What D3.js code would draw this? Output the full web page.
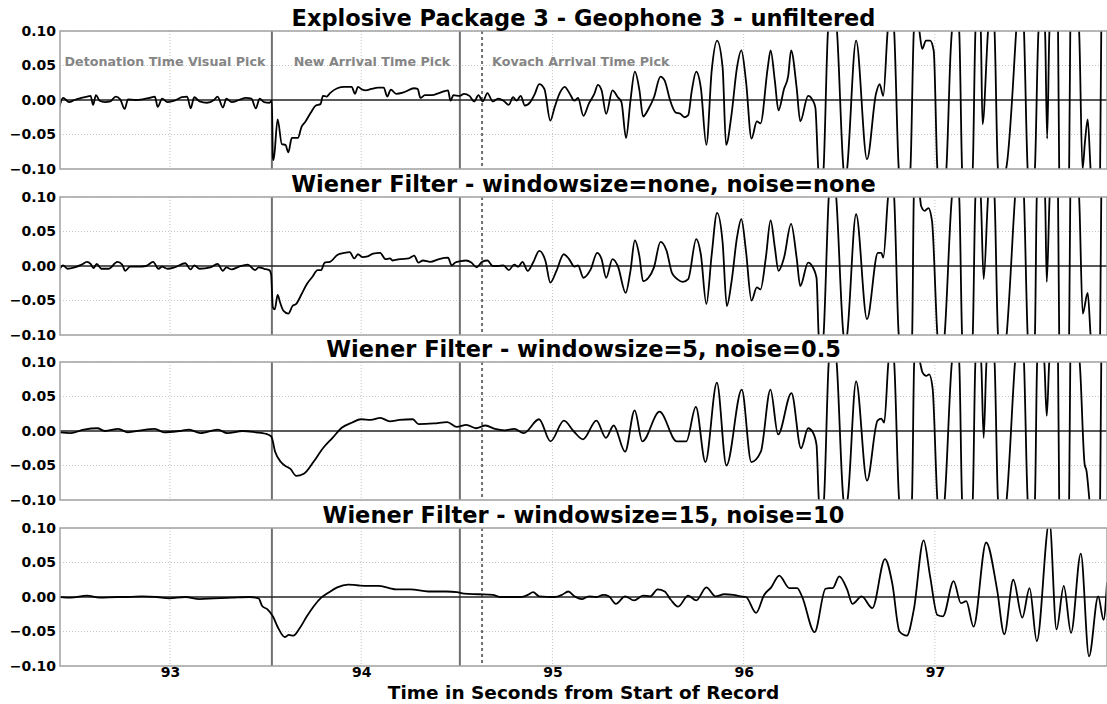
<!DOCTYPE html>
<head>
  <title>Explosive Package 3 - Geophone 3</title>
  <meta charset="utf-8">
  <script src="https://d3js.org/d3.v7.min.js"></script>

  <style>
    body { margin: 0; background: #fff; }
    svg { font-family: "DejaVu Sans", sans-serif; font-weight: bold; }
    .grid line { stroke: #b5b5b5; stroke-width: 0.8; stroke-dasharray: 1,2; }
    .frame { fill: none; stroke: #a3a3a3; stroke-width: 1.5; }
    .trace { fill: none; stroke: #000; stroke-width: 1.8; stroke-linejoin: round; }
    .zero { stroke: #222; stroke-width: 1.3; }
    .pick { stroke: #707070; stroke-width: 2; }
    .pick.dotted { stroke-dasharray: 3,3; }
    .picklabel { fill: #858585; font-size: 12.7px; }
    .title { font-size: 22.5px; fill: #000; }
    .xlabel { font-size: 18.5px; fill: #000; }
  </style>
</head>
<body>

  <svg width="1107" height="704"></svg>

  <script>

  // Panel titles
  var titles = [
    'Explosive Package 3 - Geophone 3 - unfiltered',
    'Wiener Filter - windowsize=none, noise=none',
    'Wiener Filter - windowsize=5, noise=0.5',
    'Wiener Filter - windowsize=15, noise=10'
  ];

  // Picks (seconds) and their labels
  var pickTimes = [93.533, 94.516, 94.632];
  var pickStyles = ['solid', 'solid', 'dotted'];
  var pickLabels = ['Detonation Time Visual Pick', 'New Arrival Time Pick', 'Kovach Arrival Time Pick'];
  var pickLabelTimes = [92.974, 94.056, 95.148];
  var pickLabelLevel = 0.05;

  var xTicks = [93, 94, 95, 96, 97];
  var yTicks = [-0.10, -0.05, 0.00, 0.05, 0.10];

  // [time s, amplitude]
  var geoUnfiltered = [
    [92.422,-0.010],[92.441,0.003],[92.473,-0.003],[92.501,0.000],[92.538,0.003],[92.566,0.005],[92.585,0.006],
    [92.598,-0.007],[92.613,0.007],[92.632,-0.001],[92.660,-0.003],[92.688,-0.002],[92.716,0.005],[92.740,0.001],
    [92.763,-0.013],[92.781,0.001],[92.819,0.000],[92.856,0.001],[92.893,0.003],[92.921,0.005],[92.936,-0.010],
    [92.959,0.002],[92.987,-0.003],[93.024,-0.001],[93.062,0.004],[93.090,0.005],[93.108,-0.012],[93.127,0.004],
    [93.155,-0.002],[93.193,-0.004],[93.230,0.000],[93.249,0.005],[93.277,-0.011],[93.295,0.002],[93.323,-0.003],
    [93.361,0.000],[93.398,0.003],[93.426,0.002],[93.449,-0.012],[93.469,0.002],[93.492,-0.003],[93.520,-0.004],
    [93.533,-0.001],[93.538,-0.083],[93.542,-0.087],[93.563,-0.028],[93.585,-0.064],[93.604,-0.065],[93.619,-0.076],
    [93.637,-0.055],[93.669,-0.055],[93.688,-0.039],[93.707,-0.032],[93.735,-0.019],[93.763,-0.008],[93.787,-0.006],
    [93.800,0.006],[93.819,0.005],[93.837,0.010],[93.875,0.017],[93.912,0.019],[93.950,0.019],[93.968,0.009],
    [93.983,0.019],[94.006,0.015],[94.024,0.014],[94.052,0.016],[94.090,0.018],[94.118,0.018],[94.136,0.005],
    [94.155,0.015],[94.183,0.009],[94.221,0.011],[94.277,0.017],[94.295,0.016],[94.310,0.003],[94.333,0.007],
    [94.370,0.007],[94.407,0.010],[94.454,0.014],[94.467,-0.001],[94.482,0.007],[94.516,0.006],[94.538,0.009],
    [94.566,0.006],[94.591,-0.002],[94.613,0.007],[94.636,-0.002],[94.660,0.010],[94.688,-0.002],[94.716,0.002],
    [94.744,-0.001],[94.772,-0.007],[94.794,0.004],[94.813,-0.001],[94.834,0.006],[94.856,-0.008],[94.884,-0.003],
    [94.908,0.009],[94.931,0.023],[94.958,0.016],[94.989,-0.030],[95.011,-0.011],[95.040,0.011],[95.064,0.019],
    [95.087,0.011],[95.115,-0.001],[95.134,0.003],[95.162,-0.023],[95.191,-0.005],[95.219,0.009],[95.238,0.022],
    [95.257,0.014],[95.281,-0.020],[95.314,0.014],[95.342,0.004],[95.361,-0.003],[95.385,-0.055],[95.408,-0.001],
    [95.431,0.041],[95.455,0.014],[95.474,-0.024],[95.502,-0.013],[95.531,0.004],[95.565,0.034],[95.587,0.028],
    [95.616,-0.001],[95.644,-0.018],[95.669,-0.020],[95.691,-0.025],[95.710,-0.022],[95.729,0.014],[95.752,0.041],
    [95.776,0.018],[95.805,-0.065],[95.833,0.043],[95.861,0.086],[95.890,0.047],[95.908,-0.065],[95.937,-0.020],
    [95.965,0.047],[95.988,0.072],[96.012,0.028],[96.041,-0.056],[96.069,-0.031],[96.088,-0.034],[96.126,0.047],
    [96.141,0.072],[96.163,0.028],[96.182,-0.015],[96.211,0.016],[96.233,0.035],[96.248,0.072],[96.277,0.018],
    [96.296,-0.031],[96.337,0.006],[96.362,-0.001],[96.375,-0.011],[96.390,-0.100],[96.403,-0.140],[96.418,-0.100],
    [96.441,0.100],[96.466,0.150],[96.488,0.100],[96.522,-0.100],[96.532,-0.120],[96.541,-0.100],[96.588,0.086],
    [96.645,-0.086],[96.692,0.009],[96.711,0.023],[96.730,0.006],[96.753,0.100],[96.770,0.140],[96.787,0.100],
    [96.811,-0.100],[96.841,-0.160],[96.872,-0.100],[96.890,0.100],[96.906,0.130],[96.919,0.100],[96.934,0.074],
    [96.953,0.086],[96.975,0.086],[96.994,0.071],[97.013,-0.100],[97.036,-0.150],[97.060,-0.100],[97.083,0.074],
    [97.089,0.100],[97.108,0.130],[97.127,0.100],[97.142,-0.100],[97.168,-0.200],[97.198,-0.100],[97.212,0.100],
    [97.225,0.140],[97.240,0.100],[97.249,-0.035],[97.278,0.100],[97.295,0.150],[97.312,0.100],[97.330,-0.100],
    [97.344,-0.110],[97.363,-0.105],[97.372,-0.100],[97.425,0.100],[97.446,0.200],[97.466,0.100],[97.485,-0.100],
    [97.504,-0.150],[97.523,-0.100],[97.542,0.100],[97.563,0.130],[97.576,0.100],[97.587,-0.056],[97.599,0.100],
    [97.621,0.160],[97.644,0.100],[97.650,-0.100],[97.675,-0.150],[97.702,-0.100],[97.708,0.100],[97.730,0.150],
    [97.754,0.100],[97.772,-0.100],[97.785,-0.060],[97.799,-0.028],[97.814,-0.100],[97.840,-0.200],[97.864,-0.100],
    [97.870,0.100],[97.888,0.150],[97.900,0.130]
  ];

  var wienerNone = [
    [92.422,-0.005],[92.441,0.001],[92.464,-0.004],[92.501,-0.002],[92.538,0.002],[92.566,0.006],[92.585,0.003],
    [92.600,-0.003],[92.617,0.003],[92.641,-0.004],[92.679,-0.004],[92.725,0.006],[92.750,0.002],[92.766,-0.007],
    [92.791,-0.001],[92.837,-0.001],[92.875,0.000],[92.912,0.006],[92.940,-0.004],[92.959,-0.001],[92.987,-0.004],
    [93.024,-0.002],[93.080,0.004],[93.108,-0.005],[93.127,0.001],[93.155,-0.004],[93.211,-0.002],[93.249,0.003],
    [93.277,-0.007],[93.295,-0.002],[93.323,-0.005],[93.361,-0.001],[93.407,0.002],[93.445,-0.006],[93.464,-0.002],
    [93.492,-0.004],[93.520,-0.006],[93.529,-0.012],[93.538,-0.060],[93.548,-0.063],[93.563,-0.042],[93.576,-0.053],
    [93.594,-0.065],[93.619,-0.069],[93.641,-0.058],[93.660,-0.055],[93.688,-0.041],[93.716,-0.026],[93.744,-0.016],
    [93.772,-0.006],[93.791,-0.006],[93.809,0.005],[93.837,0.006],[93.875,0.016],[93.912,0.019],[93.940,0.020],
    [93.964,0.011],[93.983,0.017],[94.006,0.013],[94.034,0.014],[94.062,0.018],[94.099,0.019],[94.127,0.010],
    [94.150,0.011],[94.164,0.008],[94.202,0.010],[94.249,0.011],[94.277,0.015],[94.299,0.005],[94.323,0.008],
    [94.361,0.006],[94.407,0.010],[94.454,0.012],[94.473,0.001],[94.492,0.005],[94.520,0.007],[94.548,0.008],
    [94.576,0.005],[94.604,-0.002],[94.632,0.006],[94.660,0.008],[94.688,0.000],[94.716,0.000],[94.744,0.001],
    [94.772,-0.006],[94.800,0.002],[94.822,-0.001],[94.843,0.006],[94.871,-0.007],[94.899,0.005],[94.931,0.022],
    [94.964,0.007],[94.989,-0.024],[95.021,-0.007],[95.059,0.017],[95.087,0.010],[95.115,-0.001],[95.134,0.001],
    [95.162,-0.017],[95.200,-0.005],[95.234,0.019],[95.257,0.010],[95.281,-0.017],[95.314,0.010],[95.342,0.000],
    [95.383,-0.039],[95.408,-0.007],[95.431,0.037],[95.455,0.014],[95.474,-0.022],[95.502,-0.017],[95.531,-0.002],
    [95.565,0.035],[95.597,0.022],[95.625,-0.010],[95.653,-0.019],[95.682,-0.023],[95.710,-0.019],[95.752,0.039],
    [95.776,0.017],[95.805,-0.055],[95.833,0.017],[95.861,0.077],[95.890,0.034],[95.912,-0.058],[95.937,-0.022],
    [95.965,0.041],[95.988,0.068],[96.012,0.022],[96.041,-0.050],[96.069,-0.031],[96.088,-0.034],[96.116,0.012],
    [96.141,0.066],[96.163,0.027],[96.182,-0.007],[96.211,0.012],[96.248,0.061],[96.277,0.012],[96.296,-0.029],
    [96.337,0.005],[96.362,-0.002],[96.381,-0.017],[96.392,-0.100],[96.403,-0.140],[96.418,-0.100],[96.445,0.100],
    [96.466,0.150],[96.484,0.100],[96.522,-0.100],[96.532,-0.115],[96.541,-0.100],[96.588,0.075],[96.645,-0.077],
    [96.702,0.019],[96.720,0.019],[96.730,0.012],[96.755,0.100],[96.771,0.140],[96.787,0.100],[96.811,-0.100],
    [96.847,-0.160],[96.881,-0.100],[96.890,0.100],[96.906,0.120],[96.922,0.100],[96.928,0.087],[96.947,0.080],
    [96.966,0.084],[96.985,0.065],[97.013,-0.100],[97.032,-0.150],[97.051,-0.100],[97.089,0.100],[97.108,0.130],
    [97.127,0.100],[97.142,-0.100],[97.168,-0.200],[97.198,-0.100],[97.212,0.100],[97.227,0.130],[97.240,0.100],
    [97.255,-0.019],[97.278,0.100],[97.295,0.150],[97.312,0.100],[97.330,-0.100],[97.353,-0.150],[97.375,-0.100],
    [97.419,0.100],[97.444,0.200],[97.466,0.100],[97.485,-0.100],[97.500,-0.150],[97.523,-0.100],[97.533,0.100],
    [97.557,0.130],[97.576,0.100],[97.585,-0.023],[97.600,0.100],[97.621,0.160],[97.644,0.100],[97.650,-0.100],
    [97.675,-0.150],[97.702,-0.100],[97.708,0.100],[97.730,0.150],[97.754,0.100],[97.773,-0.069],[97.799,-0.039],
    [97.814,-0.100],[97.840,-0.200],[97.864,-0.100],[97.870,0.100],[97.890,0.150],[97.900,0.140]
  ];

  var wiener5 = [
    [92.422,-0.002],[92.480,-0.003],[92.550,0.002],[92.620,0.004],[92.660,0.000],[92.730,0.003],[92.780,-0.002],
    [92.850,0.001],[92.920,0.003],[92.970,-0.002],[93.050,0.000],[93.100,0.002],[93.160,-0.003],[93.250,0.002],
    [93.300,-0.003],[93.380,0.000],[93.450,-0.002],[93.500,-0.004],[93.530,-0.008],[93.550,-0.030],[93.580,-0.045],
    [93.600,-0.050],[93.630,-0.055],[93.660,-0.065],[93.700,-0.062],[93.750,-0.045],[93.800,-0.025],[93.850,-0.010],
    [93.900,0.005],[93.950,0.012],[94.000,0.017],[94.050,0.016],[94.100,0.019],[94.150,0.014],[94.200,0.016],
    [94.270,0.017],[94.300,0.010],[94.380,0.011],[94.450,0.013],[94.500,0.006],[94.550,0.009],[94.600,0.004],
    [94.650,0.008],[94.700,0.003],[94.750,0.001],[94.800,0.003],[94.850,-0.003],[94.930,0.017],[94.990,-0.015],
    [95.060,0.015],[95.110,0.000],[95.160,-0.012],[95.230,0.015],[95.280,-0.010],[95.320,0.008],[95.380,-0.030],
    [95.430,0.030],[95.470,-0.015],[95.560,0.028],[95.650,-0.015],[95.700,-0.015],[95.750,0.035],[95.800,-0.045],
    [95.860,0.070],[95.910,-0.050],[95.990,0.060],[96.040,-0.045],[96.090,-0.030],[96.140,0.060],[96.180,-0.005],
    [96.250,0.055],[96.300,-0.025],[96.337,0.004],[96.362,-0.002],[96.381,-0.020],[96.393,-0.100],[96.405,-0.130],
    [96.420,-0.100],[96.445,0.100],[96.466,0.140],[96.486,0.100],[96.522,-0.100],[96.532,-0.110],[96.543,-0.100],
    [96.588,0.072],[96.645,-0.072],[96.700,0.015],[96.720,0.018],[96.735,0.012],[96.757,0.100],[96.771,0.130],
    [96.787,0.100],[96.813,-0.100],[96.847,-0.150],[96.880,-0.100],[96.892,0.100],[96.906,0.115],[96.922,0.100],
    [96.935,0.085],[96.955,0.080],[96.970,0.082],[96.988,0.062],[97.013,-0.100],[97.032,-0.140],[97.051,-0.100],
    [97.089,0.100],[97.108,0.125],[97.127,0.100],[97.142,-0.100],[97.168,-0.180],[97.198,-0.100],[97.212,0.100],
    [97.227,0.125],[97.242,0.100],[97.255,-0.010],[97.270,0.100],[97.295,0.140],[97.312,0.100],[97.330,-0.100],
    [97.353,-0.140],[97.375,-0.100],[97.419,0.100],[97.444,0.180],[97.466,0.100],[97.485,-0.100],[97.500,-0.140],
    [97.523,-0.100],[97.535,0.100],[97.557,0.125],[97.572,0.100],[97.585,0.022],[97.598,0.100],[97.621,0.150],
    [97.644,0.100],[97.650,-0.100],[97.675,-0.140],[97.702,-0.100],[97.708,0.100],[97.730,0.140],[97.757,0.100],
    [97.783,-0.048],[97.793,-0.058],[97.808,-0.100],[97.835,-0.180],[97.864,-0.100],[97.870,0.100],[97.890,0.140],
    [97.900,0.130]
  ];

  var wiener15 = [
    [92.422,0.000],[92.482,-0.001],[92.566,0.002],[92.632,-0.001],[92.725,0.000],[92.781,0.000],[92.856,0.001],
    [92.931,0.000],[92.996,-0.002],[93.080,0.000],[93.155,-0.003],[93.230,-0.002],[93.323,-0.001],[93.417,0.000],
    [93.464,-0.002],[93.482,-0.013],[93.510,-0.018],[93.538,-0.028],[93.566,-0.045],[93.600,-0.058],[93.622,-0.055],
    [93.645,-0.056],[93.679,-0.045],[93.716,-0.028],[93.753,-0.013],[93.791,-0.001],[93.828,0.006],[93.875,0.014],
    [93.931,0.018],[93.978,0.017],[94.034,0.016],[94.090,0.016],[94.146,0.013],[94.183,0.011],[94.258,0.011],
    [94.351,0.008],[94.445,0.008],[94.501,0.007],[94.538,0.005],[94.613,0.004],[94.688,0.003],[94.725,0.000],
    [94.781,0.000],[94.837,0.000],[94.871,0.003],[94.899,0.007],[94.931,0.001],[95.011,0.000],[95.049,0.003],
    [95.083,0.008],[95.115,0.001],[95.153,-0.003],[95.191,0.001],[95.229,0.000],[95.266,0.003],[95.295,0.001],
    [95.332,-0.010],[95.380,0.001],[95.427,-0.005],[95.474,0.002],[95.512,0.001],[95.550,0.011],[95.587,0.008],
    [95.619,-0.004],[95.657,-0.014],[95.710,0.002],[95.752,-0.005],[95.805,0.014],[95.852,0.001],[95.899,0.004],
    [95.946,0.003],[95.984,0.001],[96.012,0.000],[96.065,-0.023],[96.107,0.003],[96.144,0.014],[96.186,0.031],
    [96.239,0.013],[96.280,0.013],[96.305,0.001],[96.371,-0.051],[96.428,0.012],[96.447,0.013],[96.466,0.013],
    [96.500,0.030],[96.541,0.011],[96.569,-0.010],[96.617,0.001],[96.673,-0.016],[96.739,0.055],[96.777,0.020],
    [96.815,-0.050],[96.853,-0.056],[96.890,-0.018],[96.941,0.082],[96.975,0.030],[97.013,-0.026],[97.042,-0.028],
    [97.098,0.023],[97.136,-0.009],[97.164,-0.006],[97.202,-0.043],[97.268,0.079],[97.325,0.011],[97.363,-0.054],
    [97.410,0.025],[97.457,-0.030],[97.495,0.013],[97.533,-0.064],[97.599,0.110],[97.636,-0.047],[97.674,0.016],
    [97.712,-0.052],[97.763,0.063],[97.806,-0.086],[97.854,0.001],[97.882,-0.033],[97.900,0.021]
  ];

  var traces = [geoUnfiltered, wienerNone, wiener5, wiener15];

  // Layout
  var svg = d3.select('svg');
  var margin = {left: 60, right: 0};
  var plotRight = +svg.attr('width') - margin.right;
  var panelTops = [31, 197, 362, 528];
  var panelHeight = 138;

  var x = d3.scaleLinear().domain([92.425, 97.9]).range([margin.left, plotRight]);
  var y = d3.scaleLinear().domain([-0.1, 0.1]).range([panelHeight, 0]);

  var line = d3.line()
    .curve(d3.curveMonotoneX)
    .x(function(d) { return x(d[0]); })
    .y(function(d) { return y(d[1]); });

  var defs = svg.append('defs');
  defs.append('clipPath').attr('id', 'clip')
    .append('rect')
    .attr('x', margin.left)
    .attr('y', 0)
    .attr('width', plotRight - margin.left)
    .attr('height', panelHeight);

  traces.forEach(function(data, i) {
    var g = svg.append('g')
      .attr('transform', 'translate(0,' + panelTops[i] + ')');

    // dotted grid
    var grid = g.append('g').attr('class', 'grid');
    grid.selectAll('.gx').data(xTicks).enter().append('line')
      .attr('class', 'gx')
      .attr('x1', function(d) { return x(d); })
      .attr('x2', function(d) { return x(d); })
      .attr('y1', 0).attr('y2', panelHeight);
    grid.selectAll('.gy').data(yTicks.filter(function(d) { return d !== 0; })).enter().append('line')
      .attr('class', 'gy')
      .attr('x1', margin.left).attr('x2', plotRight)
      .attr('y1', function(d) { return y(d); })
      .attr('y2', function(d) { return y(d); });

    // picks
    g.selectAll('.pick').data(pickTimes).enter().append('line')
      .attr('class', function(d, k) { return 'pick ' + pickStyles[k]; })
      .attr('x1', function(d) { return x(d); })
      .attr('x2', function(d) { return x(d); })
      .attr('y1', 0).attr('y2', panelHeight);

    if (i === 0) {
      g.selectAll('.picklabel').data(pickLabels).enter().append('text')
        .attr('class', 'picklabel')
        .attr('text-anchor', 'middle')
        .attr('x', function(d, k) { return x(pickLabelTimes[k]); })
        .attr('y', y(pickLabelLevel))
        .text(function(d) { return d; });
    }

    // zero line
    g.append('line')
      .attr('class', 'zero')
      .attr('x1', margin.left).attr('x2', plotRight)
      .attr('y1', y(0)).attr('y2', y(0));

    // trace
    g.append('g').attr('clip-path', 'url(#clip)')
      .append('path')
      .datum(data)
      .attr('class', 'trace')
      .attr('d', line);

    // frame
    g.append('rect')
      .attr('class', 'frame')
      .attr('x', margin.left)
      .attr('y', 0)
      .attr('width', plotRight - margin.left)
      .attr('height', panelHeight);

    // y axis
    var yAxis = g.append('g')
      .attr('transform', 'translate(' + margin.left + ',0)')
      .call(d3.axisLeft(y).tickValues(yTicks).tickSize(0).tickPadding(4).tickFormat(d3.format('.2f')));
    yAxis.select('.domain').remove();
    yAxis.attr('font-family', null).attr('font-size', 14);
    yAxis.selectAll('text').attr('fill', '#000');

    // title
    g.append('text')
      .attr('class', 'title')
      .attr('text-anchor', 'middle')
      .attr('x', (margin.left + plotRight) / 2)
      .attr('y', -5)
      .text(titles[i]);

    if (i === traces.length - 1) {
      var xAxis = g.append('g')
        .attr('transform', 'translate(0,' + panelHeight + ')')
        .call(d3.axisBottom(x).tickValues(xTicks).tickSize(0).tickPadding(1).tickFormat(d3.format('d')));
      xAxis.select('.domain').remove();
      xAxis.attr('font-family', null).attr('font-size', 14);
      xAxis.selectAll('text').attr('fill', '#000');

      g.append('text')
        .attr('class', 'xlabel')
        .attr('text-anchor', 'middle')
        .attr('x', (margin.left + plotRight) / 2)
        .attr('y', panelHeight + 32.5)
        .text('Time in Seconds from Start of Record');
    }
  });

  </script>

</body>
